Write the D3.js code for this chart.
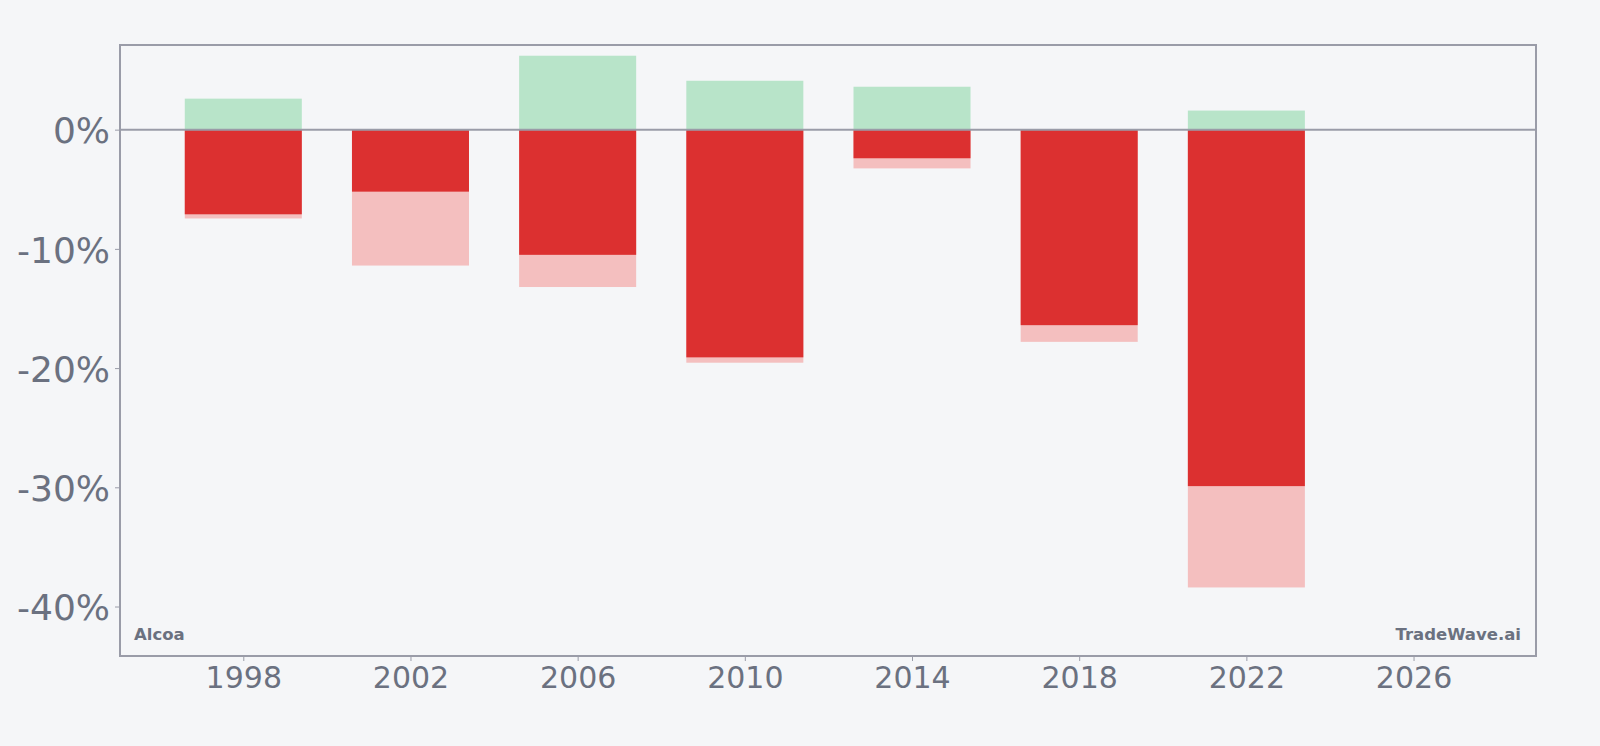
<!DOCTYPE html>
<html lang="en">
<head>
<meta charset="utf-8" />
<title>Alcoa</title>
<script src="https://d3js.org/d3.v7.min.js"></script>
<style>
  html, body { margin:0; padding:0; overflow:hidden; background-color:#f5f6f8; }
  svg { display:block; }
</style>
</head>
<body>
<svg id="svg" width="1600" height="746"></svg>
<script>
  // values (percent)
  const years  = [1998, 2002, 2006, 2010, 2014, 2018, 2022];
  const gains  = [2.6, 0, 6.2, 4.1, 3.6, 0, 1.6];
  const losses = [-7.1, -5.2, -10.5, -19.1, -2.4, -16.4, -29.9];
  const worst  = [-7.45, -11.4, -13.2, -19.55, -3.25, -17.8, -38.4];
  const xTicks = [1998, 2002, 2006, 2010, 2014, 2018, 2022, 2026];
  const yTicks = [0, -10, -20, -30, -40];

  const rows = years.map((y, i) => ({ year: y, gain: gains[i], loss: losses[i], worst: worst[i] }));

  const plotL = 120, plotR = 1536, plotT = 45, plotB = 656;
  const textColor = "#6b7180";
  const frameColor = "#9a9ca8";

  const svg = d3.select("#svg");

  const x = d3.scaleLinear().domain([1995.05, 2028.93]).range([plotL, plotR]);
  const y = d3.scaleLinear().domain([7.1, -44.15]).range([plotT, plotB]);
  const barW = x(1998 + 2.8) - x(1998);

  const bars = svg.append("g");

  // worst-case (pale red) behind
  bars.selectAll(".worst").data(rows).join("rect")
      .attr("class", "worst")
      .attr("x", d => x(d.year) - barW / 2)
      .attr("width", barW)
      .attr("y", y(0))
      .attr("height", d => y(d.worst) - y(0))
      .attr("fill", "#f4bfbf");

  bars.selectAll(".loss").data(rows).join("rect")
      .attr("class", "loss")
      .attr("x", d => x(d.year) - barW / 2)
      .attr("width", barW)
      .attr("y", y(0))
      .attr("height", d => y(d.loss) - y(0))
      .attr("fill", "#dc3030");

  bars.selectAll(".gain").data(rows.filter(d => d.gain > 0)).join("rect")
      .attr("class", "gain")
      .attr("x", d => x(d.year) - barW / 2)
      .attr("width", barW)
      .attr("y", d => y(d.gain))
      .attr("height", d => y(0) - y(d.gain))
      .attr("fill", "#b8e4c9");

  // zero line
  svg.append("line")
      .attr("x1", plotL).attr("x2", plotR)
      .attr("y1", y(0)).attr("y2", y(0))
      .attr("stroke", frameColor).attr("stroke-width", 2);

  // axes
  const yAxis = svg.append("g")
      .attr("transform", `translate(${plotL},0)`)
      .call(d3.axisLeft(y).tickValues(yTicks).tickFormat(d => d + "%").tickSize(5).tickPadding(5));
  yAxis.select(".domain").remove();
  yAxis.selectAll(".tick line").attr("stroke", frameColor);
  yAxis.selectAll("text")
      .attr("fill", textColor)
      .attr("dy", "0.37em")
      .style("font-family", "DejaVu Sans")
      .style("font-size", "36px");

  const xAxis = svg.append("g")
      .attr("transform", `translate(0,${plotB})`)
      .call(d3.axisBottom(x).tickValues(xTicks).tickFormat(d3.format("d")).tickSize(5).tickPadding(6));
  xAxis.select(".domain").remove();
  xAxis.selectAll(".tick line").attr("stroke", frameColor);
  xAxis.selectAll("text")
      .attr("fill", textColor)
      .style("font-family", "DejaVu Sans")
      .style("font-size", "30px");

  // frame
  svg.append("rect")
      .attr("x", plotL).attr("y", plotT)
      .attr("width", plotR - plotL).attr("height", plotB - plotT)
      .attr("fill", "none")
      .attr("stroke", frameColor).attr("stroke-width", 2);

  // labels
  svg.append("text")
      .attr("x", plotL + 14).attr("y", plotB - 16)
      .attr("fill", textColor)
      .style("font-family", "DejaVu Sans").style("font-weight", "bold").style("font-size", "16.5px")
      .text("Alcoa");
  svg.append("text")
      .attr("x", plotR - 15).attr("y", plotB - 16)
      .attr("text-anchor", "end")
      .attr("fill", textColor)
      .style("font-family", "DejaVu Sans").style("font-weight", "bold").style("font-size", "16.5px")
      .text("TradeWave.ai");
</script>
</body>
</html>
